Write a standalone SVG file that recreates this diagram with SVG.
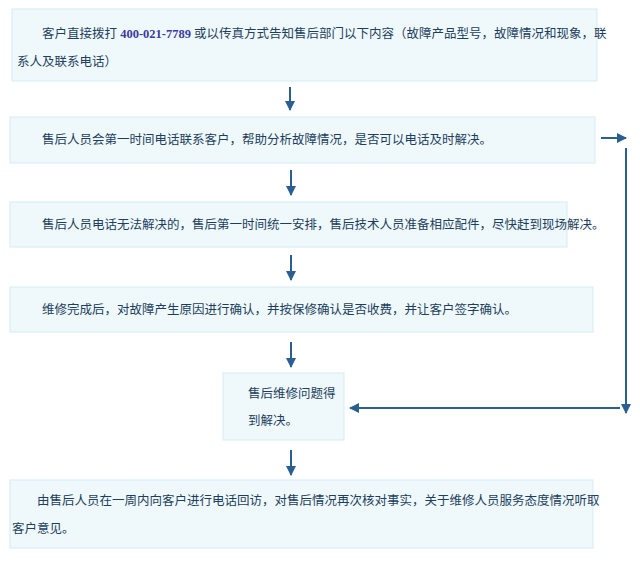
<svg xmlns="http://www.w3.org/2000/svg" width="640" height="561" viewBox="0 0 640 561">
<style>
.box{fill:#eff9fc;stroke:#d3ecf3;stroke-width:1}
.t{font-family:"Noto Sans CJK SC","Liberation Sans",sans-serif;font-size:12.5px;fill:#1d3e5c}
.n{font-family:"Liberation Serif",serif;font-weight:bold;fill:#3a3aa0}
.c{stroke:#2a5f8f;stroke-width:2;fill:none}
</style>
<defs><marker id="a" viewBox="0 0 10 10" refX="9" refY="5" markerWidth="5" markerHeight="5" orient="auto"><path d="M0,0 L10,5 L0,10 z" fill="#2a5f8f"/></marker></defs>
<rect width="640" height="561" fill="#fff"/>
<g id="n1"><rect class="box" x="12" y="9" width="585" height="72"/>
<text class="t" x="42" y="38">客户直接拨打<tspan class="n"> 400-021-7789 </tspan>或以传真方式告知售后部门以下内容（故障产品型号，故障情况和现象，联</text>
<text class="t" x="17" y="66">系人及联系电话）</text></g>
<g id="n2"><rect class="box" x="10" y="117" width="585" height="46"/><text class="t" x="42" y="144">售后人员会第一时间电话联系客户，帮助分析故障情况，是否可以电话及时解决。</text></g>
<g id="n3"><rect class="box" x="10" y="202" width="557" height="45"/><text class="t" x="42" y="229">售后人员电话无法解决的，售后第一时间统一安排，售后技术人员准备相应配件，尽快赶到现场解决。</text></g>
<g id="n4"><rect class="box" x="10" y="287" width="583" height="45"/><text class="t" x="42" y="314">维修完成后，对故障产生原因进行确认，并按保修确认是否收费，并让客户签字确认。</text></g>
<g id="n5"><rect class="box" x="223" y="373" width="121" height="67"/><text class="t" x="248" y="398">售后维修问题得</text><text class="t" x="248" y="425">到解决。</text></g>
<g id="n6"><rect class="box" x="10" y="480" width="583" height="68"/><text class="t" x="37" y="505">由售后人员在一周内向客户进行电话回访，对售后情况再次核对事实，关于维修人员服务态度情况听取</text><text class="t" x="12" y="533">客户意见。</text></g>
<g id="connectors">
<line class="c" x1="290" y1="87" x2="290" y2="110" marker-end="url(#a)"/>
<line class="c" x1="291" y1="170" x2="291" y2="195" marker-end="url(#a)"/>
<line class="c" x1="291" y1="255" x2="291" y2="280" marker-end="url(#a)"/>
<line class="c" x1="291" y1="342" x2="291" y2="367" marker-end="url(#a)"/>
<line class="c" x1="291" y1="450" x2="291" y2="475" marker-end="url(#a)"/>
<line class="c" x1="601" y1="138" x2="626" y2="138" marker-end="url(#a)"/>
<line class="c" x1="626" y1="148" x2="626" y2="413" marker-end="url(#a)"/>
<line class="c" x1="620" y1="408" x2="350" y2="408" marker-end="url(#a)"/>
</g>
</svg>
